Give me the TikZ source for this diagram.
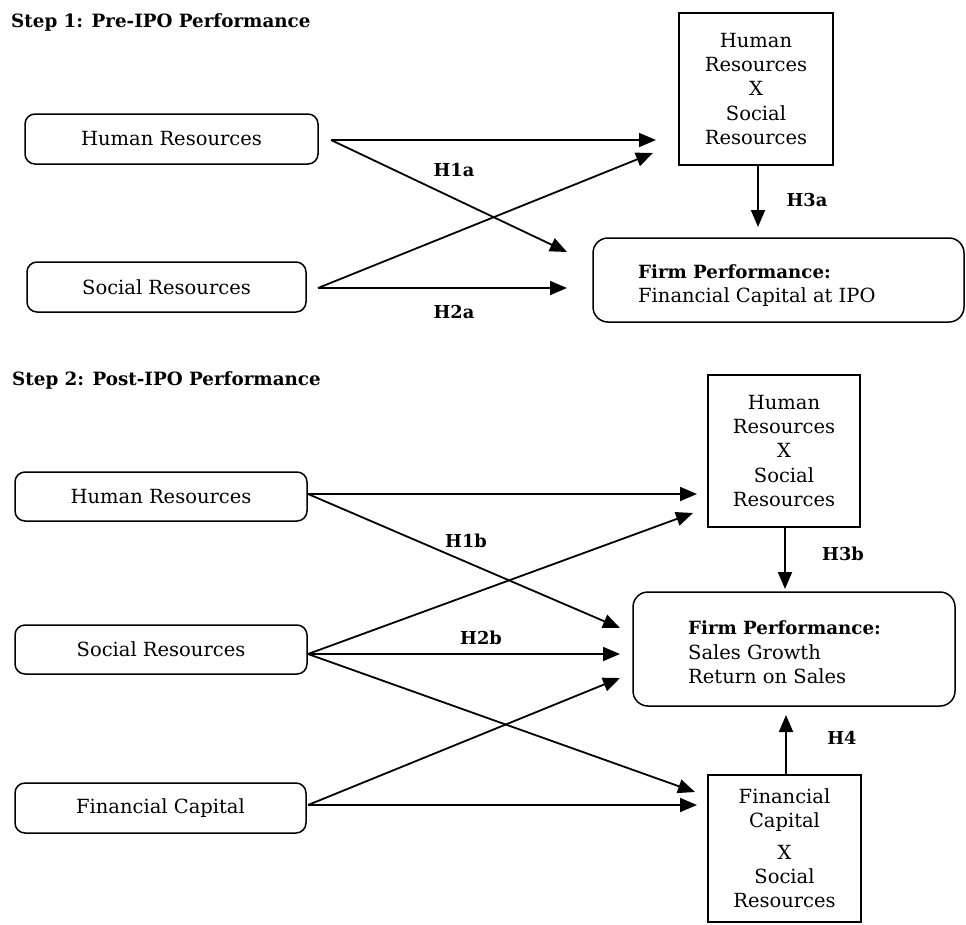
\documentclass[tikz,border=0pt]{standalone}
\usepackage{fontspec}
\setmainfont{DejaVu Serif}
\usetikzlibrary{arrows.meta}
\begin{document}
\begin{tikzpicture}[x=1pt,y=-1pt,
  rbox/.style={draw,line width=1.5pt,rounded corners=10pt,inner sep=0pt,font=\fontsize{19.5}{24}\selectfont},
  sbox/.style={draw,line width=1.5pt,inner sep=0pt,align=center,font=\fontsize{19.5}{24.3}\selectfont},
  fbox/.style={draw,line width=1.5pt,rounded corners=15pt,inner sep=0pt},
  ftext/.style={anchor=west,inner sep=0pt,align=left,font=\fontsize{19.5}{24.5}\selectfont},
  arr/.style={line width=1.8pt,-{Triangle[length=17pt,width=14pt]}},
  lbl/.style={inner sep=0pt,font=\fontsize{17.8}{20}\selectfont\bfseries},
  ttl/.style={anchor=west,inner sep=0pt,font=\fontsize{18.3}{20}\selectfont\bfseries}]
\useasboundingbox (0,0) rectangle (966,924);

% ---------- Step 1 ----------
\node[ttl] (t1) at (11,22) {Step 1: Pre-IPO Performance};
\node[rbox,minimum width=293pt,minimum height=50pt] (hr1) at (171.5,139) {Human Resources};
\node[rbox,minimum width=279pt,minimum height=50pt] (sr1) at (166.5,287) {Social Resources};
\node[sbox,minimum width=154pt,minimum height=152pt] (hs1) at (756,89) {Human\\Resources\\X\\Social\\Resources};
\node[fbox,minimum width=371pt,minimum height=84pt] (fp1) at (778.5,280) {};
\node[ftext] (fp1t) at (638,285.5) {\textbf{\fontsize{18.2}{24.5}\selectfont Firm Performance:}\\Financial Capital at IPO};

\coordinate (hr1o) at (331,140);
\coordinate (sr1o) at (318,288);
\coordinate (e1a) at (656,140);
\coordinate (e1b) at (567,252);
\coordinate (e1c) at (653,153);
\coordinate (e1d) at (567,288);
\coordinate (hs1o) at (758,165);
\coordinate (e1e) at (758,227);

\draw[arr] (hr1o) -- (e1a);
\draw[arr] (hr1o) -- (e1b);
\draw[arr] (sr1o) -- (e1c);
\draw[arr] (sr1o) -- (e1d);
\draw[arr] (hs1o) -- (e1e);

\node[lbl] (h1a) at (454,170) {H1a};
\node[lbl] (h2a) at (454,312) {H2a};
\node[lbl] (h3a) at (807,200) {H3a};

% ---------- Step 2 ----------
\node[ttl] (t2) at (12,380) {Step 2: Post-IPO Performance};
\node[rbox,minimum width=292pt,minimum height=49pt] (hr2) at (161,496.5) {Human Resources};
\node[rbox,minimum width=292pt,minimum height=49pt] (sr2) at (161,649.5) {Social Resources};
\node[rbox,minimum width=291pt,minimum height=50pt] (fc2) at (160.5,808) {Financial Capital};
\node[sbox,minimum width=152pt,minimum height=152pt] (hs2) at (784,451) {Human\\Resources\\X\\Social\\Resources};
\node[fbox,minimum width=322pt,minimum height=114pt] (fp2) at (794,649) {};
\node[ftext] (fp2t) at (688,652.5) {\textbf{\fontsize{18.2}{24.5}\selectfont Firm Performance:}\\Sales Growth\\Return on Sales};
\node[sbox,minimum width=153pt,minimum height=147pt] (fs2) at (784.5,848.5) {Financial\\Capital\\[7pt]X\\Social\\Resources};

\coordinate (hr2o) at (308,494);
\coordinate (sr2o) at (308,654);
\coordinate (fc2o) at (308,805);
\coordinate (e2a) at (697,494);
\coordinate (e2b) at (620,628);
\coordinate (e2c) at (693,513);
\coordinate (e2d) at (620,654);
\coordinate (e2e) at (695,792);
\coordinate (e2f) at (620,678);
\coordinate (e2g) at (697,805);
\coordinate (hs2o) at (785,527);
\coordinate (e2h) at (785,589);
\coordinate (fs2o) at (786,775);
\coordinate (e2i) at (786,715);

\draw[arr] (hr2o) -- (e2a);
\draw[arr] (hr2o) -- (e2b);
\draw[arr] (sr2o) -- (e2c);
\draw[arr] (sr2o) -- (e2d);
\draw[arr] (sr2o) -- (e2e);
\draw[arr] (fc2o) -- (e2f);
\draw[arr] (fc2o) -- (e2g);
\draw[arr] (hs2o) -- (e2h);
\draw[arr] (fs2o) -- (e2i);

\node[lbl] (h1b) at (466,541) {H1b};
\node[lbl] (h2b) at (481,638) {H2b};
\node[lbl] (h3b) at (843,554) {H3b};
\node[lbl] (h4) at (842,738) {H4};
\end{tikzpicture}
\end{document}
